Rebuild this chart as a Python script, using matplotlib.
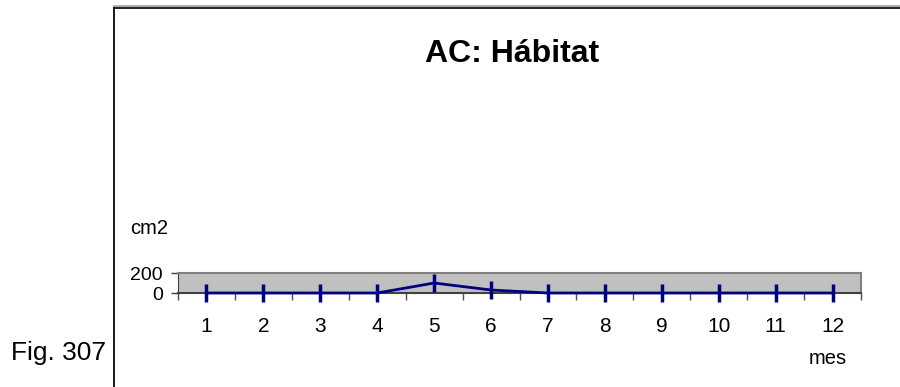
import matplotlib
matplotlib.use("Agg")
import matplotlib.pyplot as plt
from matplotlib.lines import Line2D

plt.rcParams['font.family'] = ['Liberation Sans', 'DejaVu Sans']

# datos
meses = [1, 2, 3, 4, 5, 6, 7, 8, 9, 10, 11, 12]
area_cm2 = [0, 0, 0, 0, 100, 30, 0, 0, 0, 0, 0, 0]
y_ticks = [0, 200]

W, H = 900, 387
fig = plt.figure(figsize=(W / 100, H / 100), dpi=100)


def fx(px):
    return px / W


def fy(py):
    return 1 - py / H


# borde del área del gráfico (solo arriba e izquierda)
fig.add_artist(Line2D([fx(114.5), fx(114.5)], [fy(8), 0], color='#a0a0a0', lw=1.2))
fig.add_artist(Line2D([fx(114.5), 1], [fy(6), fy(6)], color='#a0a0a0', lw=1.2))
fig.add_artist(Line2D([fx(113.5), fx(113.5)], [fy(7.5), 0], color='black', lw=1.2))
fig.add_artist(Line2D([fx(113.5), 1], [fy(7.5), fy(7.5)], color='black', lw=1.2))

ax = fig.add_axes([fx(178), fy(293), fx(861) - fx(178), (293 - 273) / H])
ax.set_facecolor('#c0c0c0')
ax.plot(meses, area_cm2, color='#000080', lw=2, marker='|', ms=13, mew=2.5,
        clip_on=False, zorder=5)

ax.set_xlim(0.5, 12.5)
ax.set_ylim(0, 200)
ax.set_xticks(meses)
ax.set_xticklabels([str(m) for m in meses])
ax.set_xticks([m - 0.5 for m in meses] + [12.5], minor=True)
ax.tick_params(axis='x', which='major', length=0, pad=17, labelsize=15)
ax.tick_params(axis='x', which='minor', length=5, width=1, color='#505050', direction='out')
ax.set_yticks(y_ticks)
ax.set_yticklabels([str(v) for v in y_ticks])
ax.tick_params(axis='y', length=5, width=1, color='#404040', direction='out',
               pad=6, labelsize=14)

for s in ['top', 'right']:
    ax.spines[s].set_color('#808080')
    ax.spines[s].set_linewidth(1.5)
ax.spines['left'].set_color('#404040')
ax.spines['bottom'].set_color('#404040')
ax.spines['bottom'].set_linewidth(1.5)

fig.text(fx(512), fy(54), 'AC: Hábitat', ha='center', va='center',
         fontsize=23, fontweight='bold')
fig.text(fx(130), fy(228), 'cm2', ha='left', va='center', fontsize=14.5)
fig.text(fx(847), fy(358), 'mes', ha='right', va='center', fontsize=14.5)
fig.text(fx(11), fy(353), 'Fig. 307', ha='left', va='center', fontsize=19)

fig.savefig('out.png', dpi=100)
